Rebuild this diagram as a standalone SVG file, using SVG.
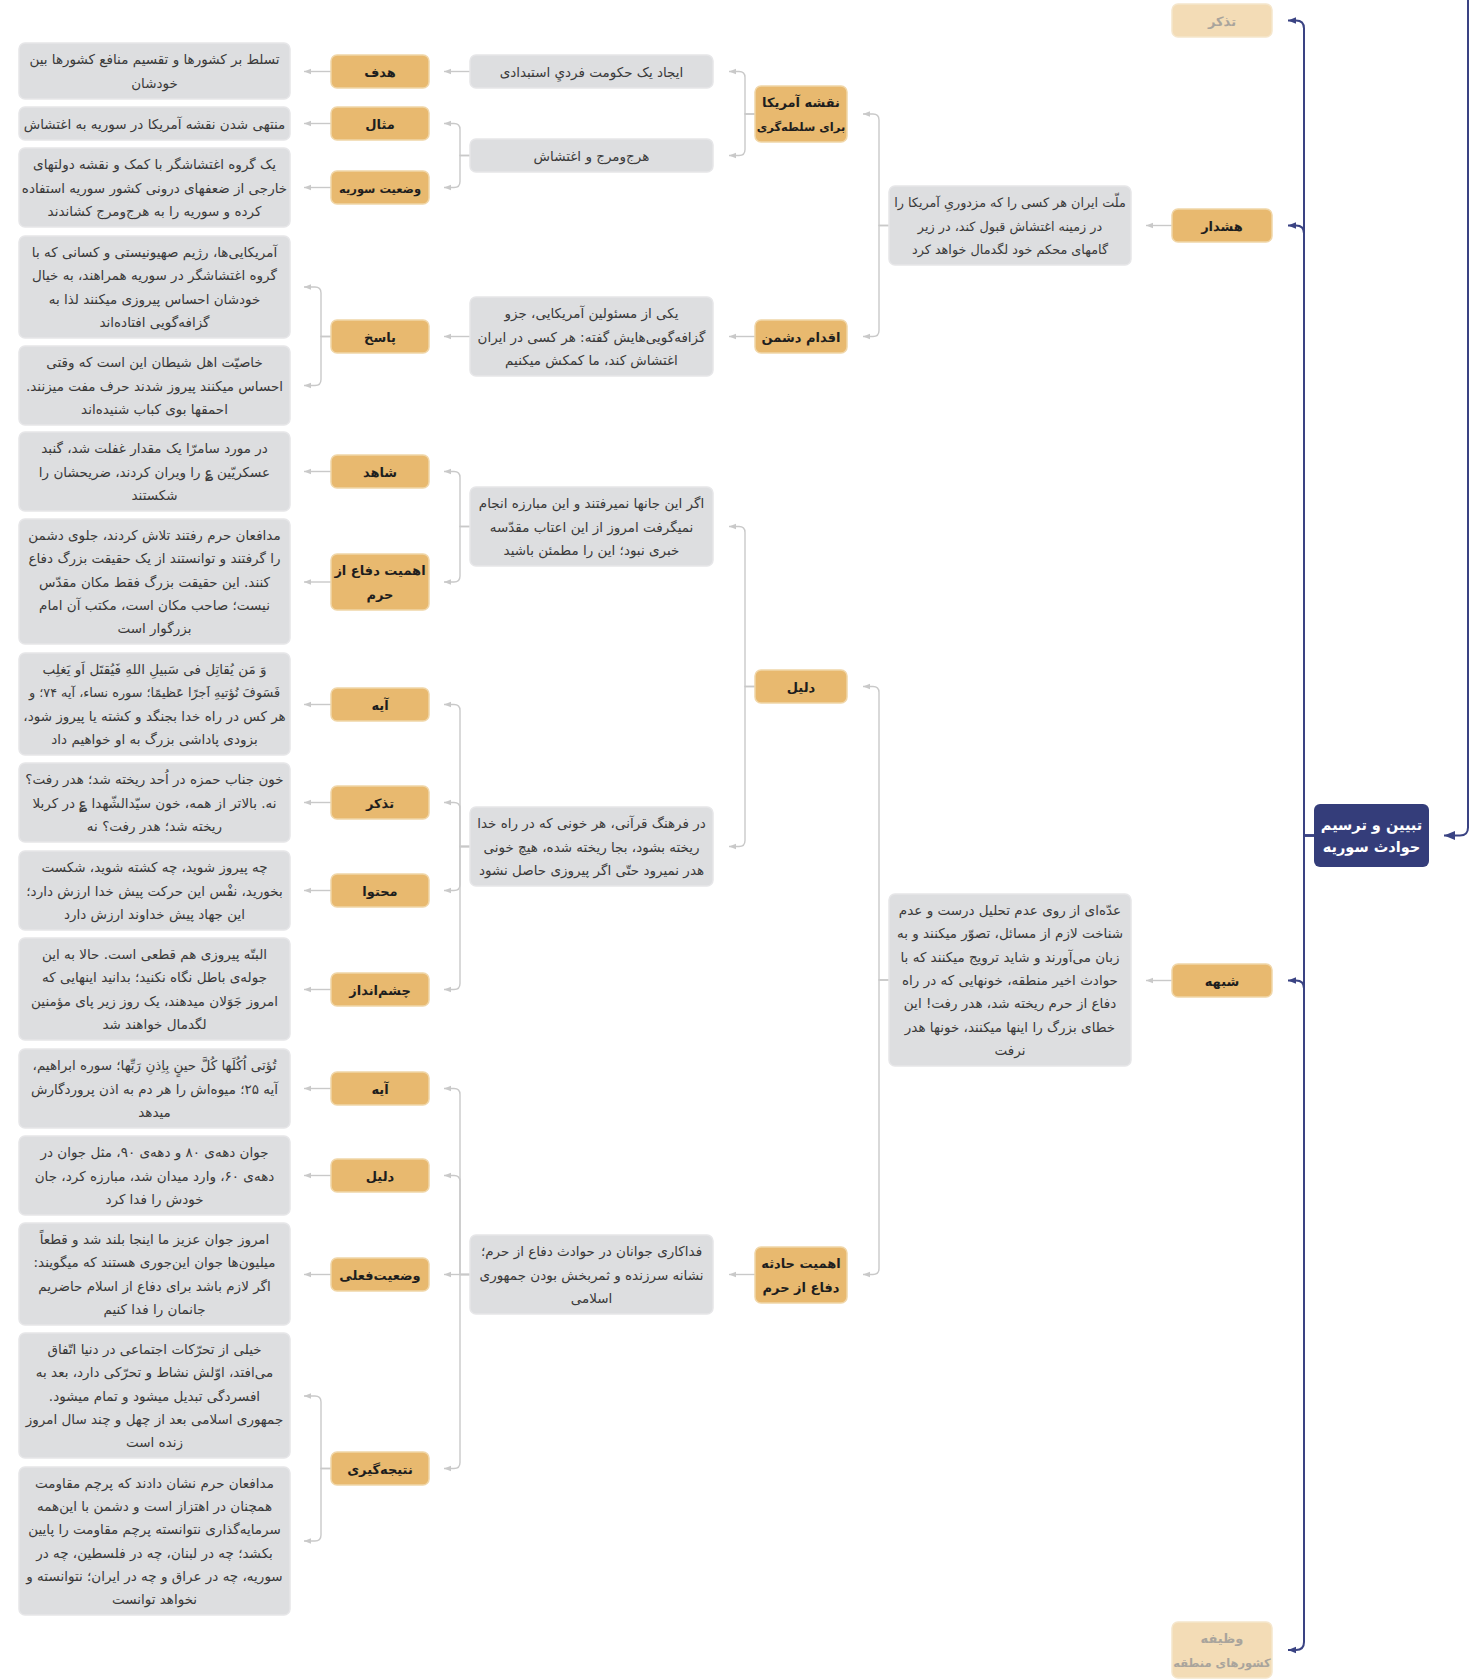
<svg xmlns="http://www.w3.org/2000/svg" width="1477" height="1679" viewBox="0 0 1477 1679">
<defs>
<style>
text{font-family:"DejaVu Sans","Noto Sans",sans-serif;text-anchor:middle;direction:rtl;unicode-bidi:embed}
.g rect{fill:#dddee0;stroke:#e6e6e8;stroke-width:1.5}
.g text{font-size:13.5px;fill:#3a3a3a}
.o rect{fill:#e8b96f;stroke:#f0d6a8;stroke-width:1.5}
.o text{font-size:13px;font-weight:bold;fill:#1e1e1e}
.f rect{fill:#f3dcb6;stroke:#f5e6cc;stroke-width:1.5}
.f text{font-size:13px;font-weight:bold;fill:#a9a49c}
.r rect{fill:#343d7a}
.r text{font-size:14.5px;font-weight:bold;fill:#ffffff}
.o text.s,.f text.s{font-size:11.5px}
.g text.m{font-size:12.8px}
.c path{fill:none;stroke:#c9c9c9;stroke-width:1.4;marker-end:url(#ag)}
.b path{fill:none;stroke:#3a4383;stroke-width:2;marker-end:url(#ab)}
</style>
<marker id="ag" viewBox="0 0 10 10" refX="10" refY="5" markerWidth="7" markerHeight="7" markerUnits="userSpaceOnUse" orient="auto"><path d="M0,1 L10,5 L0,9 z" fill="#c9c9c9"/></marker>
<marker id="ab" viewBox="0 0 10 10" refX="10" refY="5" markerWidth="8" markerHeight="8" markerUnits="userSpaceOnUse" orient="auto"><path d="M0,1 L10,5 L0,9 z" fill="#3a4383"/></marker>
<marker id="ab2" viewBox="0 0 10 10" refX="10" refY="5" markerWidth="11" markerHeight="11" markerUnits="userSpaceOnUse" orient="auto"><path d="M0,1 L10,5 L0,9 z" fill="#3a4383"/></marker>
</defs>
<rect width="1477" height="1679" fill="#ffffff"/>

<g id="connectors">
<g class="c">
<path d="M331,71.5 H304"/>
<path d="M331,123.5 H304"/>
<path d="M331,187.5 H304"/>
<path d="M331,471.5 H304"/>
<path d="M331,582 H304"/>
<path d="M331,704.5 H304"/>
<path d="M331,802.5 H304"/>
<path d="M331,890.5 H304"/>
<path d="M331,989.5 H304"/>
<path d="M331,1088.5 H304"/>
<path d="M331,1175.5 H304"/>
<path d="M331,1274.5 H304"/>
<path d="M331,336.5 H321 V293 Q321,287 315,287 H304"/>
<path d="M331,336.5 H321 V379.5 Q321,385.5 315,385.5 H304"/>
<path d="M331,1468.5 H321 V1402 Q321,1396 315,1396 H304"/>
<path d="M331,1468.5 H321 V1535 Q321,1541 315,1541 H304"/>
<path d="M470,71.5 H444"/>
<path d="M470,336.5 H444"/>
<path d="M470,155.5 H460 V129.5 Q460,123.5 454,123.5 H444"/>
<path d="M470,155.5 H460 V181.5 Q460,187.5 454,187.5 H444"/>
<path d="M470,526.5 H460 V477.5 Q460,471.5 454,471.5 H444"/>
<path d="M470,526.5 H460 V576 Q460,582 454,582 H444"/>
<path d="M470,846.5 H460 V710.5 Q460,704.5 454,704.5 H444"/>
<path d="M470,846.5 H460 V808.5 Q460,802.5 454,802.5 H444"/>
<path d="M470,846.5 H460 V884.5 Q460,890.5 454,890.5 H444"/>
<path d="M470,846.5 H460 V983.5 Q460,989.5 454,989.5 H444"/>
<path d="M470,1274.5 H460 V1094.5 Q460,1088.5 454,1088.5 H444"/>
<path d="M470,1274.5 H460 V1181.5 Q460,1175.5 454,1175.5 H444"/>
<path d="M470,1274.5 H444"/>
<path d="M470,1274.5 H460 V1462.5 Q460,1468.5 454,1468.5 H444"/>
<path d="M755,114 H745 V77.5 Q745,71.5 739,71.5 H729"/>
<path d="M755,114 H745 V149.5 Q745,155.5 739,155.5 H729"/>
<path d="M755,336.5 H729"/>
<path d="M755,686.5 H745 V532.5 Q745,526.5 739,526.5 H729"/>
<path d="M755,686.5 H745 V840.5 Q745,846.5 739,846.5 H729"/>
<path d="M755,1274.5 H729"/>
<path d="M889,225.5 H879 V120 Q879,114 873,114 H863"/>
<path d="M889,225.5 H879 V330.5 Q879,336.5 873,336.5 H863"/>
<path d="M889,980 H879 V692.5 Q879,686.5 873,686.5 H863"/>
<path d="M889,980 H879 V1268.5 Q879,1274.5 873,1274.5 H863"/>
<path d="M1172,225.5 H1146"/>
<path d="M1172,980.5 H1146"/>
</g>
<g class="b">
<path d="M1314,835.5 H1304 V28.5 Q1304,20.5 1296,20.5 H1288"/>
<path d="M1314,835.5 H1304 V233.5 Q1304,225.5 1296,225.5 H1288"/>
<path d="M1314,835.5 H1304 V988.5 Q1304,980.5 1296,980.5 H1288"/>
<path d="M1314,835.5 H1304 V1642 Q1304,1650 1296,1650 H1288"/>
<path d="M1468,0 V827.5 Q1468,835.5 1460,835.5 H1444" style="marker-end:url(#ab2)"/>
</g>
</g>

<g id="root" class="r"><rect x="1314" y="804" width="115" height="63" rx="6"/><text x="1371.5" y="830">تبیین و ترسیم</text><text x="1371.5" y="852">حوادث سوریه</text></g>

<g id="n-tazakor1" class="f"><rect x="1172" y="4" width="100" height="33" rx="6"/><text x="1222" y="25.5">تذکر</text></g>
<g id="n-hoshdar" class="o"><rect x="1172" y="209" width="100" height="33" rx="6"/><text x="1222" y="230.5">هشدار</text></g>
<g id="n-shobhe" class="o"><rect x="1172" y="964" width="100" height="33" rx="6"/><text x="1222" y="985.5">شبهه</text></g>
<g id="n-vazife" class="f"><rect x="1172" y="1622" width="100" height="56" rx="6"/><text x="1222" y="1643.4">وظیفه</text><text class="s" x="1222" y="1666.7">کشورهای منطقه</text></g>

<g id="n-mellat" class="g"><rect x="889" y="186" width="242" height="79" rx="6"/><text class="m" x="1010" y="207.2">ملّت ایران هر کسی را که مزدوریِ آمریکا را</text><text class="m" x="1010" y="230.5">در زمینه اغتشاش قبول کند، در زیر</text><text class="m" x="1010" y="253.8">گامهای محکم خود لگدمال خواهد کرد</text></g>
<g id="n-edde" class="g"><rect x="889" y="894" width="242" height="172" rx="6"/><text x="1010" y="915.1">عدّه‌ای از روی عدم تحلیل درست و عدم</text><text x="1010" y="938.4">شناخت لازم از مسائل، تصوّر میکنند و به</text><text x="1010" y="961.7">زبان می‌آورند و شاید ترویج میکنند که با</text><text x="1010" y="985">حوادث اخیر منطقه، خونهایی که در راه</text><text x="1010" y="1008.3">دفاع از حرم ریخته شد، هدر رفت! این</text><text x="1010" y="1031.6">خطای بزرگ را اینها میکنند، خونها هدر</text><text x="1010" y="1054.9">نرفت</text></g>

<g id="n-naghshe" class="o"><rect x="755" y="86" width="92" height="56" rx="6"/><text x="801" y="107.4">نقشه آمریکا</text><text class="s" x="801" y="130.7">برای سلطه‌گری</text></g>
<g id="n-eghdam" class="o"><rect x="755" y="320" width="92" height="33" rx="6"/><text x="801" y="341.5">اقدام دشمن</text></g>
<g id="n-dalil1" class="o"><rect x="755" y="670" width="92" height="33" rx="6"/><text x="801" y="691.5">دلیل</text></g>
<g id="n-ahamiat2" class="o"><rect x="755" y="1247" width="92" height="56" rx="6"/><text x="801" y="1268.4">اهمیت حادثه</text><text x="801" y="1291.7">دفاع از حرم</text></g>

<g id="n-ijad" class="g"><rect x="470" y="55" width="243" height="33" rx="6"/><text x="591.5" y="76.5">ایجاد یک حکومت فرديِ استبدادی</text></g>
<g id="n-harj" class="g"><rect x="470" y="139" width="243" height="33" rx="6"/><text x="591.5" y="160.5">هرج‌ومرج و اغتشاش</text></g>
<g id="n-yeki" class="g"><rect x="470" y="297" width="243" height="79" rx="6"/><text x="591.5" y="318.2">یکی از مسئولین آمریکایی، جزو</text><text x="591.5" y="341.5">گزافه‌گویی‌هایش گفته: هر کسی در ایران</text><text x="591.5" y="364.8">اغتشاش کند، ما کمکش میکنیم</text></g>
<g id="n-agar" class="g"><rect x="470" y="487" width="243" height="79" rx="6"/><text x="591.5" y="508.2">اگر این جانها نمیرفتند و این مبارزه انجام</text><text x="591.5" y="531.5">نمیگرفت امروز از این اعتاب مقدّسه</text><text x="591.5" y="554.8">خبری نبود؛ این را مطمئن باشید</text></g>
<g id="n-farhang" class="g"><rect x="470" y="807" width="243" height="79" rx="6"/><text x="591.5" y="828.2">در فرهنگ قرآنی، هر خونی که در راه خدا</text><text x="591.5" y="851.5">ریخته بشود، بجا ریخته شده، هیچ خونی</text><text x="591.5" y="874.8">هدر نمیرود حتّی اگر پیروزی حاصل نشود</text></g>
<g id="n-fadakari" class="g"><rect x="470" y="1235" width="243" height="79" rx="6"/><text x="591.5" y="1256.2">فداکاری جوانان در حوادث دفاع از حرم؛</text><text x="591.5" y="1279.5">نشانه سرزنده و ثمربخش بودن جمهوری</text><text x="591.5" y="1302.8">اسلامی</text></g>

<g id="n-hadaf" class="o"><rect x="331" y="55" width="98" height="33" rx="6"/><text x="380" y="76.5">هدف</text></g>
<g id="n-mesal" class="o"><rect x="331" y="107" width="98" height="33" rx="6"/><text x="380" y="128.5">مثال</text></g>
<g id="n-vaziat" class="o"><rect x="331" y="171" width="98" height="33" rx="6"/><text class="s" x="380" y="192.5">وضعیت سوریه</text></g>
<g id="n-pasokh" class="o"><rect x="331" y="320" width="98" height="33" rx="6"/><text x="380" y="341.5">پاسخ</text></g>
<g id="n-shahed" class="o"><rect x="331" y="455" width="98" height="33" rx="6"/><text x="380" y="476.5">شاهد</text></g>
<g id="n-ahamiat1" class="o"><rect x="331" y="554" width="98" height="56" rx="6"/><text x="380" y="575.4">اهمیت دفاع از</text><text x="380" y="598.7">حرم</text></g>
<g id="n-aye1" class="o"><rect x="331" y="688" width="98" height="33" rx="6"/><text x="380" y="709.5">آیه</text></g>
<g id="n-tazakor2" class="o"><rect x="331" y="786" width="98" height="33" rx="6"/><text x="380" y="807.5">تذکر</text></g>
<g id="n-mohtava" class="o"><rect x="331" y="874" width="98" height="33" rx="6"/><text x="380" y="895.5">محتوا</text></g>
<g id="n-cheshm" class="o"><rect x="331" y="973" width="98" height="33" rx="6"/><text x="380" y="994.5">چشم‌انداز</text></g>
<g id="n-aye2" class="o"><rect x="331" y="1072" width="98" height="33" rx="6"/><text x="380" y="1093.5">آیه</text></g>
<g id="n-dalil2" class="o"><rect x="331" y="1159" width="98" height="33" rx="6"/><text x="380" y="1180.5">دلیل</text></g>
<g id="n-feli" class="o"><rect x="331" y="1258" width="98" height="33" rx="6"/><text x="380" y="1279.5">وضعیت‌فعلی</text></g>
<g id="n-natije" class="o"><rect x="331" y="1452" width="98" height="33" rx="6"/><text x="380" y="1473.5">نتیجه‌گیری</text></g>

<g id="b1" class="g"><rect x="19" y="43" width="271" height="56" rx="6"/><text x="154.5" y="64.4">تسلط بر کشورها و تقسیم منافع کشورها بین</text><text x="154.5" y="87.7">خودشان</text></g>
<g id="b2" class="g"><rect x="19" y="107" width="271" height="33" rx="6"/><text x="154.5" y="128.5">منتهی شدن نقشه آمریکا در سوریه به اغتشاش</text></g>
<g id="b3" class="g"><rect x="19" y="148" width="271" height="79" rx="6"/><text x="154.5" y="169.2">یک گروه اغتشاشگر با کمک و نقشه دولتهای</text><text x="154.5" y="192.5">خارجی از ضعفهای درونی کشور سوریه استفاده</text><text x="154.5" y="215.8">کرده و سوریه را به هرج‌ومرج کشاندند</text></g>
<g id="b4" class="g"><rect x="19" y="236" width="271" height="102" rx="6"/><text x="154.5" y="257">آمریکایی‌ها، رژیم صهیونیستی و کسانی که با</text><text x="154.5" y="280.3">گروه اغتشاشگر در سوریه همراهند، به خیال</text><text x="154.5" y="303.6">خودشان احساس پیروزی میکنند لذا به</text><text x="154.5" y="327">گزافه‌گویی افتاده‌اند</text></g>
<g id="b5" class="g"><rect x="19" y="346" width="271" height="79" rx="6"/><text x="154.5" y="367.2">خاصیّت اهل شیطان این است که وقتی</text><text x="154.5" y="390.5">احساس میکنند پیروز شدند حرف مفت میزنند.</text><text x="154.5" y="413.8">احمقها بوی کباب شنیده‌اند</text></g>
<g id="b6" class="g"><rect x="19" y="432" width="271" height="79" rx="6"/><text x="154.5" y="453.2">در مورد سامرّا یک مقدار غفلت شد، گنبد</text><text x="154.5" y="476.5">عسکریّین ؏ را ویران کردند، ضریحشان را</text><text x="154.5" y="499.8">شکستند</text></g>
<g id="b7" class="g"><rect x="19" y="519" width="271" height="125" rx="6"/><text x="154.5" y="539.9">مدافعان حرم رفتند تلاش کردند، جلوی دشمن</text><text x="154.5" y="563.2">را گرفتند و توانستند از یک حقیقت بزرگ دفاع</text><text x="154.5" y="586.5">کنند. این حقیقت بزرگ فقط مکان مقدّس</text><text x="154.5" y="609.8">نیست؛ صاحب مکان است، مکتب آن امام</text><text x="154.5" y="633.1">بزرگوار است</text></g>
<g id="b8" class="g"><rect x="19" y="653" width="271" height="102" rx="6"/><text x="154.5" y="674">وَ مَن یُقاتِل فی سَبیلِ اللهِ فَیُقتَل اَو یَغلِب</text><text class="m" x="154.5" y="697.4">فَسَوفَ نُؤتیهِ اَجرًا عَظیمًا؛ سوره نساء، آیه ۷۴؛ و</text><text x="154.5" y="720.7">هر کس در راه خدا بجنگد و کشته یا پیروز شود،</text><text x="154.5" y="744">بزودی پاداشی بزرگ به او خواهیم داد</text></g>
<g id="b9" class="g"><rect x="19" y="763" width="271" height="79" rx="6"/><text x="154.5" y="784.2">خون جناب حمزه در اُحد ریخته شد؛ هدر رفت؟</text><text x="154.5" y="807.5">نه. بالاتر از همه، خون سیّدالشّهدا ؏ در کربلا</text><text x="154.5" y="830.8">ریخته شد؛ هدر رفت؟ نه</text></g>
<g id="b10" class="g"><rect x="19" y="851" width="271" height="79" rx="6"/><text x="154.5" y="872.2">چه پیروز شوید، چه کشته شوید، شکست</text><text x="154.5" y="895.5">بخورید، نفْس این حرکت پیش خدا ارزش دارد؛</text><text x="154.5" y="918.8">این جهاد پیش خداوند ارزش دارد</text></g>
<g id="b11" class="g"><rect x="19" y="938" width="271" height="102" rx="6"/><text x="154.5" y="959">البتّه پیروزی هم قطعی است. حالا به این</text><text x="154.5" y="982.4">جوله‌ی باطل نگاه نکنید؛ بدانید اینهایی که</text><text x="154.5" y="1005.7">امروز جَوَلان میدهند، یک روز زیر پای مؤمنین</text><text x="154.5" y="1029">لگدمال خواهند شد</text></g>
<g id="b12" class="g"><rect x="19" y="1049" width="271" height="79" rx="6"/><text x="154.5" y="1070.2">تُؤتی اُکُلَها کُلَّ حینٍ بِاِذنِ رَبِّها؛ سوره ابراهیم،</text><text x="154.5" y="1093.5">آیه ۲۵؛ میوه‌اش را هر دم به اذن پروردگارش</text><text x="154.5" y="1116.8">میدهد</text></g>
<g id="b13" class="g"><rect x="19" y="1136" width="271" height="79" rx="6"/><text x="154.5" y="1157.2">جوان دهه‌ی ۸۰ و دهه‌ی ۹۰، مثل جوان در</text><text x="154.5" y="1180.5">دهه‌ی ۶۰، وارد میدان شد، مبارزه کرد، جان</text><text x="154.5" y="1203.8">خودش را فدا کرد</text></g>
<g id="b14" class="g"><rect x="19" y="1223" width="271" height="102" rx="6"/><text x="154.5" y="1244">امروز جوان عزیز ما اینجا بلند شد و قطعاً</text><text x="154.5" y="1267.4">میلیون‌ها جوان این‌جوری هستند که میگویند:</text><text x="154.5" y="1290.7">اگر لازم باشد برای دفاع از اسلام حاضریم</text><text x="154.5" y="1314">جانمان را فدا کنیم</text></g>
<g id="b15" class="g"><rect x="19" y="1333" width="271" height="125" rx="6"/><text x="154.5" y="1353.9">خیلی از تحرّکات اجتماعی در دنیا اتّفاق</text><text x="154.5" y="1377.2">می‌افتد، اوّلش نشاط و تحرّکی دارد، بعد به</text><text x="154.5" y="1400.5">افسردگی تبدیل میشود و تمام میشود.</text><text x="154.5" y="1423.8">جمهوری اسلامی بعد از چهل و چند سال امروز</text><text x="154.5" y="1447.1">زنده است</text></g>
<g id="b16" class="g"><rect x="19" y="1467" width="271" height="148" rx="6"/><text x="154.5" y="1487.8">مدافعان حرم نشان دادند که پرچم مقاومت</text><text x="154.5" y="1511.1">همچنان در اهتزاز است و دشمن با این‌همه</text><text x="154.5" y="1534.4">سرمایه‌گذاری نتوانسته پرچم مقاومت را پایین</text><text x="154.5" y="1557.7">بکشد؛ چه در لبنان، چه در فلسطین، چه در</text><text x="154.5" y="1581">سوریه، چه در عراق و چه در ایران؛ نتوانسته و</text><text x="154.5" y="1604.3">نخواهد توانست</text></g>
</svg>
